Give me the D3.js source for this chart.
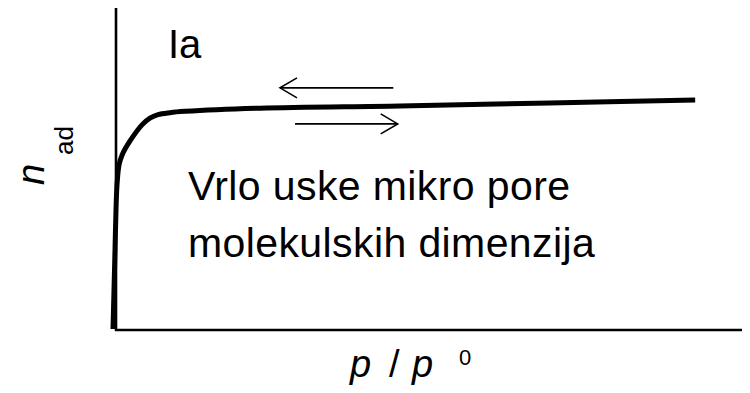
<!DOCTYPE html>
<html>
<head>
<meta charset="utf-8">
<script src="https://cdn.jsdelivr.net/npm/d3@7"></script>
<style>
  body { margin: 0; background: #fff; }
  text { font-family: "Liberation Sans", Arial, sans-serif; fill: #000; }
</style>
</head>
<body>
<div id="chart"></div>
<script>
// izoterma tip Ia, relativne jedinice
var pRel = [0, 0.0016, 0.0032, 0.0048, 0.0064, 0.0096, 0.0144, 0.0272, 0.0463, 0.059, 0.0719, 0.091, 0.115, 0.235, 0.458, 0.698, 0.930];
var nAd  = [0.003, 0.124, 0.248, 0.373, 0.450, 0.512, 0.543, 0.587, 0.637, 0.658, 0.669, 0.675, 0.679, 0.689, 0.696, 0.705, 0.714];

// strelice histereze
var arrows = [
    { x1: 0.262, x2: 0.443, y: 0.752, dir: -1 },
    { x1: 0.286, x2: 0.450, y: 0.640, dir: 1 }
];

var typeLabel = 'Ia';
var noteLines = ['Vrlo uske mikro pore', 'molekulskih dimenzija'];

var width = 750;
var height = 393;
var left = 116;
var bottom = 330;

var svg = d3.select('#chart')
    .append('svg')
        .attr('width', width)
        .attr('height', height);

var x = d3.scaleLinear()
    .domain([0, 1])
    .range([left, 742]);

var y = d3.scaleLinear()
    .domain([0, 1])
    .range([bottom, 8]);

/** osi */
svg.append('line')
    .attr('x1', x(0)).attr('x2', x(0))
    .attr('y1', y(0) + 1).attr('y2', y(1))
    .attr('stroke', '#000').attr('stroke-width', 2.6);

svg.append('line')
    .attr('x1', x(0) - 1).attr('x2', x(1))
    .attr('y1', y(0)).attr('y2', y(0))
    .attr('stroke', '#000').attr('stroke-width', 2.6);

/** krivulja */
var pts = pRel.map(function(d, i) { return [d, nAd[i]]; });

svg.append('path')
    .datum(pts)
        .attr('fill', 'none')
        .attr('stroke', '#000')
        .attr('stroke-width', 5)
        .attr('stroke-linejoin', 'round')
        .attr('d', d3.line()
            .x(function(d) { return x(d[0]) - 3; })
            .y(function(d) { return y(d[1]); })
            .curve(d3.curveCatmullRom.alpha(0.5))
        );

/** strelice */
arrows.forEach(function(a) {
    var g = svg.append('g')
        .attr('stroke', '#000')
        .attr('stroke-width', 1.6)
        .attr('fill', 'none');
    g.append('line')
        .attr('x1', x(a.x1)).attr('x2', x(a.x2))
        .attr('y1', y(a.y)).attr('y2', y(a.y));
    var tip = a.dir < 0 ? x(a.x1) : x(a.x2);
    var back = tip - a.dir * 17;
    g.append('path')
        .attr('d', 'M' + back + ',' + (y(a.y) - 10) + 'L' + tip + ',' + y(a.y) + 'L' + back + ',' + (y(a.y) + 10));
});

/** tekst */
svg.append('text')
    .attr('x', 168)
    .attr('y', 58)
    .style('font-size', '40px')
    .text(typeLabel);

svg.selectAll('.note')
    .data(noteLines)
    .enter().append('text')
        .attr('class', 'note')
        .attr('x', 188)
        .attr('y', function(d, i) { return 200 + i * 57; })
        .style('font-size', '41px')
        .style('letter-spacing', '0.4px')
        .text(function(d) { return d; });

// y os
svg.append('text')
    .attr('transform', 'translate(44,185) rotate(-90)')
    .style('font-size', '38px')
    .style('font-style', 'italic')
    .text('n');
svg.append('text')
    .attr('transform', 'translate(73,155) rotate(-90)')
    .style('font-size', '26px')
    .text('ad');

// x os
svg.append('text')
    .attr('x', 350).attr('y', 377)
    .style('font-size', '38px').style('font-style', 'italic')
    .text('p');
svg.append('text')
    .attr('x', 389).attr('y', 377)
    .style('font-size', '38px')
    .text('/');
svg.append('text')
    .attr('x', 412).attr('y', 377)
    .style('font-size', '38px').style('font-style', 'italic')
    .text('p');
svg.append('text')
    .attr('x', 459)
    .attr('y', 365)
    .style('font-size', '22px')
    .text('0');
</script>
</body>
</html>
